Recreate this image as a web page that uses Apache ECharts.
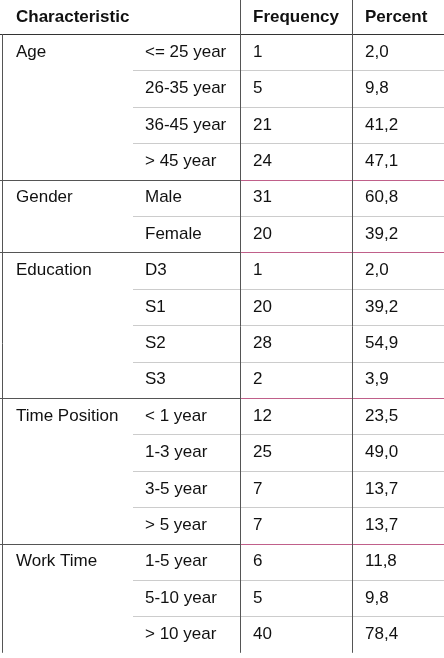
<!DOCTYPE html><html><head><meta charset="utf-8"><script src="https://cdn.jsdelivr.net/npm/echarts@6/dist/echarts.min.js"></script>
<style>html,body{margin:0;padding:0;background:#fff}#c{width:444px;height:658px}</style></head><body><div id="c"></div><script>
const headers=["Characteristic","Frequency","Percent"];
const groups=["Age","Gender","Education","Time Position","Work Time"];
const categories=[["<= 25 year","26-35 year","36-45 year","> 45 year"],["Male","Female"],["D3","S1","S2","S3"],["< 1 year","1-3 year","3-5 year","> 5 year"],["1-5 year","5-10 year","> 10 year"]];
const frequency=[[1,5,21,24],[31,20],[1,20,28,2],[12,25,7,7],[6,5,40]];
const percent=[["2,0","9,8","41,2","47,1"],["60,8","39,2"],["2,0","39,2","54,9","3,9"],["23,5","49,0","13,7","13,7"],["11,8","9,8","78,4"]];
const font='"Liberation Sans Narrow","Arial Narrow","Liberation Sans",Arial,sans-serif';
const top0=34,rowH=36.4,colX=[16,145,253,365],vx=[2.5,240.5,352.5];
const g=[];
function txt(x,y,s,bold){g.push({type:'text',x:x,y:y,style:{text:String(s),fill:'#111',font:(bold?'bold ':'')+'17px '+font,textVerticalAlign:'middle'}});}
function line(x1,y1,x2,y2,c,w){g.push({type:'line',shape:{x1,y1,x2,y2},style:{stroke:c,lineWidth:w||1}});}
txt(colX[0],17,headers[0],true);txt(colX[2],17,headers[1],true);txt(colX[3],17,headers[2],true);
let r=0;
groups.forEach((gn,gi)=>{
  const y0=top0+r*rowH;
  if(gi>0){line(0,Math.round(y0)+0.5,240,Math.round(y0)+0.5,'#555',1);line(240,Math.round(y0)+0.5,444,Math.round(y0)+0.5,'#c0608a',1);}
  txt(colX[0],y0+rowH/2,gn);
  categories[gi].forEach((c,ci)=>{
    const y=top0+(r+ci)*rowH;
    if(ci>0) line(133,Math.round(y)+0.5,444,Math.round(y)+0.5,'#ccc',1);
    txt(colX[1],y+rowH/2,c);txt(colX[2],y+rowH/2,frequency[gi][ci]);txt(colX[3],y+rowH/2,percent[gi][ci]);
  });
  r+=categories[gi].length;
});
const bottom=top0+r*rowH;
line(0,top0+0.5,444,top0+0.5,'#333',1.2);
vx.forEach((x,i)=>line(x,i===0?top0:0,x,bottom,'#555',1));
const ch=echarts.init(document.getElementById('c'));
ch.setOption({animation:false,graphic:g});
</script></body></html>
